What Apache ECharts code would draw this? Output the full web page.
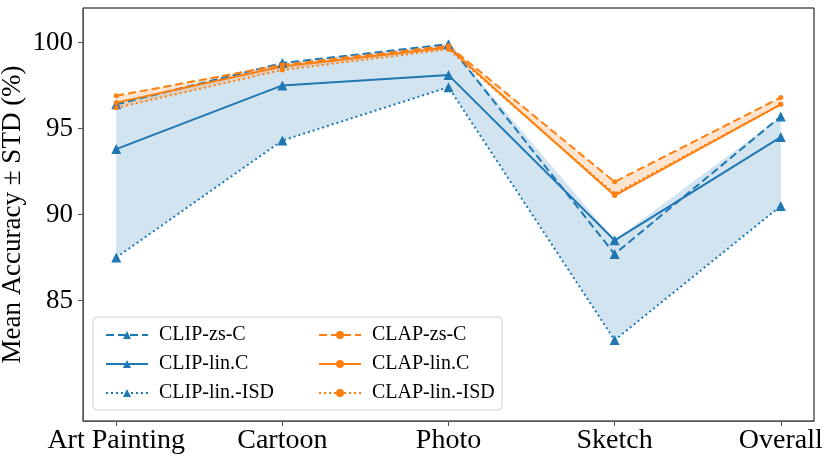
<!DOCTYPE html>
<html>
<head>
<meta charset="utf-8">
<script src="https://cdn.jsdelivr.net/npm/echarts@6/dist/echarts.min.js"></script>
<style>
  html, body { margin: 0; padding: 0; background: #fff; }
  #chart { width: 830px; height: 457px; }
</style>
</head>
<body>
<div id="chart"></div>
<script>
// 类别
const categories = ['Art Painting', 'Cartoon', 'Photo', 'Sketch', 'Overall']
const yTicks = [85, 90, 95, 100]

// CLIP 系列
const clipZsC = [96.4, 98.8, 99.9, 87.7, 95.7]
const clipLinC = [93.8, 97.5, 98.1, 88.5, 94.5]
const clipLinISD = [87.5, 94.3, 97.4, 82.7, 90.5]

// CLAP 系列
const clapZsC = [96.9, 98.7, 99.8, 91.9, 96.8]
const clapLinC = [96.5, 98.6, 99.7, 91.1, 96.4]
const clapLinISD = [96.2, 98.4, 99.6, 91.2, 96.4]

const BLUE = '#1f77b4'
const ORANGE = '#ff7f0e'
const FONT = 'Liberation Serif'

const toPoints = (arr) => arr.map((v, i) => [i, v])

// 填充带: 每个类别的最小值到最大值
const band = (groups, fill) => {
    const upper = categories.map((_, i) => Math.max(...groups.map(g => g[i])))
    const lower = categories.map((_, i) => Math.min(...groups.map(g => g[i])))
    return {
        type: 'custom',
        z: 1,
        silent: true,
        data: [[0, 0]],
        renderItem: (params, api) => {
            const pts = upper.map((v, i) => api.coord([i, v]))
            for (let i = lower.length - 1; i >= 0; i--) pts.push(api.coord([i, lower[i]]))
            return { type: 'polygon', shape: { points: pts }, style: { fill: fill } }
        }
    }
}

const lineSeries = (name, data, color, dash, symbol, size) => ({
    name: name,
    type: 'line',
    z: 3,
    data: toPoints(data),
    symbol: symbol,
    symbolSize: size,
    showSymbol: true,
    itemStyle: { color: color },
    lineStyle: { color: color, width: 2, type: dash },
    emphasis: { disabled: true },
    animation: false
})

const DASHED = [8, 4]
const DOTTED = [2, 3]

const legendBase = {
    orient: 'vertical',
    top: 320,
    itemWidth: 42,
    itemHeight: 10,
    itemGap: 9,
    textStyle: { fontFamily: FONT, fontSize: 20, color: '#000', lineHeight: 20, padding: [0, 0, 0, 6] }
}

const option = {
    animation: false,
    grid: {
        left: 83, top: 8, right: 16, bottom: 36,
        outerBoundsMode: 'none',
        show: true, borderColor: '#000', borderWidth: 1
    },
    xAxis: {
        type: 'value',
        min: -0.2,
        max: 4.2,
        splitLine: { show: false },
        axisLine: { onZero: false, lineStyle: { color: '#555' } },
        axisTick: { customValues: [0, 1, 2, 3, 4], length: 5, lineStyle: { color: '#555' } },
        axisLabel: {
            customValues: [0, 1, 2, 3, 4],
            formatter: (v) => categories[Math.round(v)],
            fontFamily: FONT, fontSize: 28, color: '#000', margin: 6
        }
    },
    yAxis: {
        type: 'value',
        min: 78,
        max: 102,
        name: 'Mean Accuracy ± STD (%)',
        nameLocation: 'middle',
        nameGap: 57,
        nameMoveOverlap: false,
        nameTextStyle: { fontFamily: FONT, fontSize: 27, color: '#000' },
        splitLine: { show: false },
        axisLine: { show: true, onZero: false, lineStyle: { color: '#555' } },
        axisTick: { show: true, customValues: yTicks, length: 5, lineStyle: { color: '#555' } },
        axisLabel: { customValues: yTicks, fontFamily: FONT, fontSize: 27, color: '#000', margin: 10 }
    },
    legend: [
        Object.assign({}, legendBase, { left: 100, data: ['CLIP-zs-C', 'CLIP-lin.C', 'CLIP-lin.-ISD'] }),
        Object.assign({}, legendBase, { left: 313, data: ['CLAP-zs-C', 'CLAP-lin.C', 'CLAP-lin.-ISD'] })
    ],
    graphic: [{
        type: 'rect',
        z: 0,
        shape: { x: 93, y: 317, width: 409, height: 93, r: 4 },
        style: { fill: 'rgba(255,255,255,0.8)', stroke: '#d0d0d0', lineWidth: 1 }
    }],
    series: [
        band([clipZsC, clipLinC, clipLinISD], 'rgba(31,119,180,0.2)'),
        band([clapZsC, clapLinC, clapLinISD], 'rgba(255,127,14,0.2)'),
        lineSeries('CLIP-zs-C', clipZsC, BLUE, DASHED, 'triangle', 10),
        lineSeries('CLIP-lin.C', clipLinC, BLUE, 'solid', 'triangle', 10),
        lineSeries('CLIP-lin.-ISD', clipLinISD, BLUE, DOTTED, 'triangle', 10),
        lineSeries('CLAP-zs-C', clapZsC, ORANGE, DASHED, 'circle', 5),
        lineSeries('CLAP-lin.C', clapLinC, ORANGE, 'solid', 'circle', 5),
        lineSeries('CLAP-lin.-ISD', clapLinISD, ORANGE, DOTTED, 'circle', 5)
    ]
}

const chart = echarts.init(document.getElementById('chart'))
chart.setOption(option)
</script>
</body>
</html>
